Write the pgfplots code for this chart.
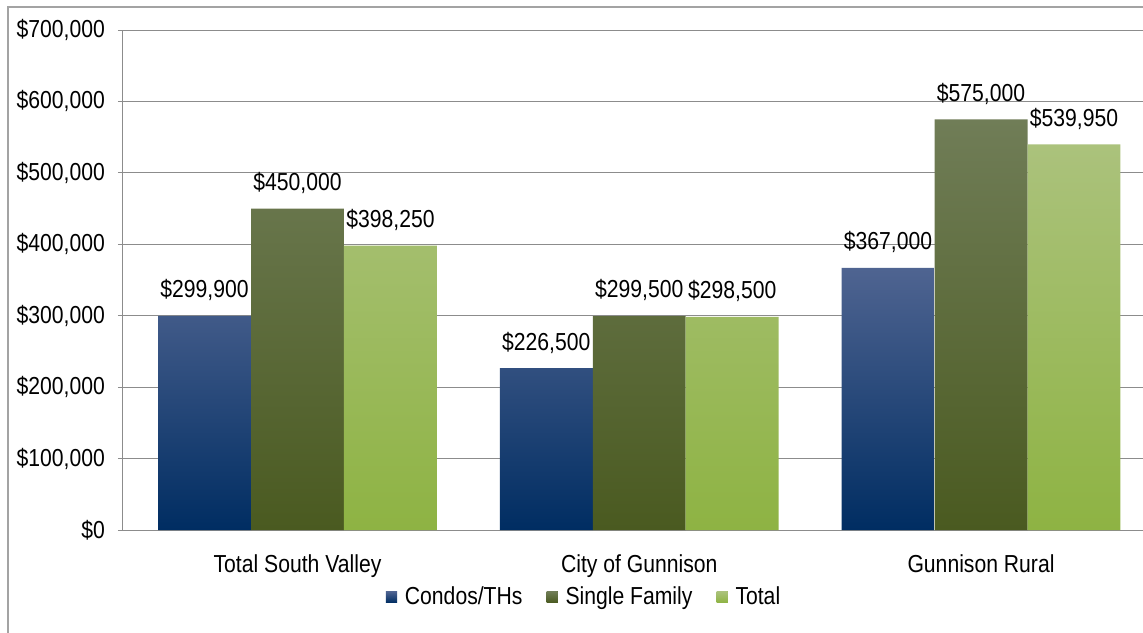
\documentclass[border=0pt]{standalone}
\usepackage{pgfplots}
\pgfplotsset{compat=1.18}
\usepackage{fontspec}
\setmainfont{Liberation Sans}[FakeStretch=0.86]
\definecolor{condoTop}{HTML}{4F6491}
\definecolor{condoMid}{HTML}{0B3366}
\definecolor{condoBot}{HTML}{002D62}
\definecolor{sfTop}{HTML}{707D57}
\definecolor{sfMid}{HTML}{4F5E2A}
\definecolor{sfBot}{HTML}{4A5A20}
\definecolor{totTop}{HTML}{ABC27C}
\definecolor{totMid}{HTML}{98B857}
\definecolor{totBot}{HTML}{8EB343}
\definecolor{gridgray}{HTML}{8C8C8C}
\begin{document}
\begin{tikzpicture}
\useasboundingbox (-61.5pt,-51pt) rectangle (510pt,265pt);
\begin{axis}[
  scale only axis,
  width=510pt, height=250pt,
  at={(0,0)}, anchor=south west,
  /pgf/number format/assume math mode=true,
  font=\fontsize{12.3pt}{14pt}\selectfont,
  ybar=0pt,
  bar width=0.272,
  xmin=-0.5106, xmax=2.474,
  ymin=0, ymax=700000,
  xtick={0,1,2},
  xticklabels={Total South Valley, City of Gunnison, Gunnison Rural},
  xtick style={draw=none},
  ytick={0,100000,...,700000},
  scaled y ticks=false,
  yticklabel={\$\pgfmathprintnumber[fixed,1000 sep={,}]{\tick}},
  ytick style={draw=gridgray, line width=0.5pt},
  tick align=outside,
  major tick length=2.5pt,
  ymajorgrids,
  grid style={draw=gridgray, line width=0.5pt},
  axis x line*=bottom,
  axis y line*=left,
  axis line style={draw=gridgray, line width=0.5pt, -},
  x tick label style={yshift=-6.5pt},
  y tick label style={xshift=-3pt},
  nodes near coords={\$\pgfmathprintnumber[fixed,precision=0,1000 sep={,}]{\pgfplotspointmeta}},
  every node near coord/.append style={yshift=4pt, font=\fontsize{12.3pt}{14pt}\selectfont},
  legend style={at={(0.453,-0.134)}, anchor=center, draw=none, legend columns=3,
    font=\fontsize{12.3pt}{14pt}\selectfont,
    /tikz/every even column/.append style={column sep=10pt}},
]
\addplot[draw=none, top color=condoTop, middle color=condoMid, bottom color=condoBot,
  legend image code/.code={\fill[condoBot] (0pt,-2.8pt) rectangle (5.6pt,2.8pt); \path (0pt,0pt) -- (7.5pt,0pt);}]
  coordinates {(0,299900) (1,226500) (2,367000)};
\addplot[draw=none, top color=sfTop, middle color=sfMid, bottom color=sfBot,
  legend image code/.code={\fill[sfMid] (0pt,-2.8pt) rectangle (5.6pt,2.8pt); \path (0pt,0pt) -- (7.5pt,0pt);}]
  coordinates {(0,450000) (1,299500) (2,575000)};
\addplot[draw=none, top color=totTop, middle color=totMid, bottom color=totBot,
  legend image code/.code={\fill[totMid] (0pt,-2.8pt) rectangle (5.6pt,2.8pt); \path (0pt,0pt) -- (7.5pt,0pt);}]
  coordinates {(0,398250) (1,298500) (2,539950)};
\legend{Condos/THs, Single Family, Total}
\end{axis}
\draw[gridgray!80, line width=0.8pt] (-57.5pt,-60pt) -- (-57.5pt,261.5pt) -- (520pt,261.5pt);
\end{tikzpicture}
\end{document}
